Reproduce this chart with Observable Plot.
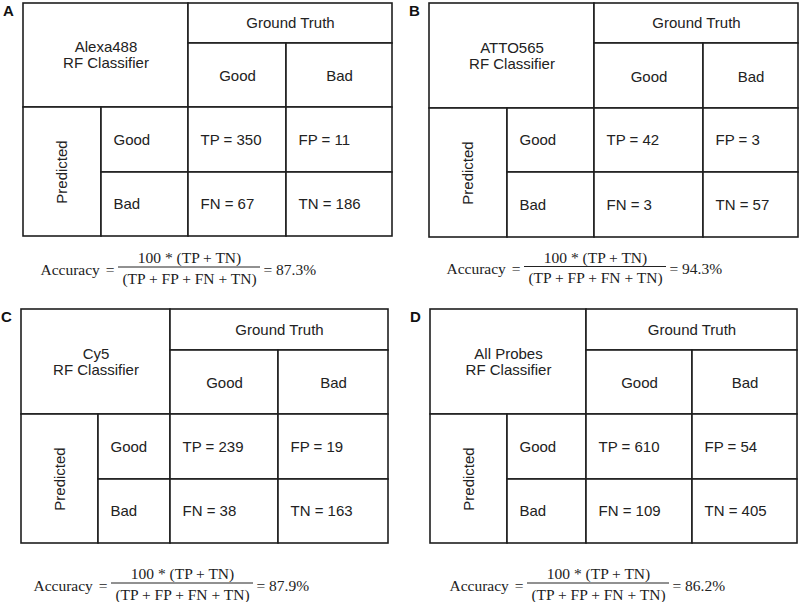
<!DOCTYPE html>
<html>
<head>
<meta charset="utf-8">
<script src="https://cdn.jsdelivr.net/npm/d3@7"></script>
<script src="https://cdn.jsdelivr.net/npm/@observablehq/plot@0.6"></script>
<style>
  html, body { margin: 0; padding: 0; background: #fff; }
  #chart svg { display: block; }
</style>
</head>
<body>
<div id="chart"></div>
<script>
// ---- Data ----
const panels = ["A", "B", "C", "D"];
const probes = ["Alexa488", "ATTO565", "Cy5", "All Probes"];
const truthLabels = ["Good", "Bad"];
const predLabels = ["Good", "Bad"];
const tp = [350, 42, 239, 610];
const fp = [11, 3, 19, 54];
const fn = [67, 3, 38, 109];
const tn = [186, 57, 163, 405];
const accuracy = [87.3, 94.3, 87.9, 86.2];

// ---- Layout (table grid edges, formula anchors) ----
const colEdges = [
  [23, 101, 188, 286, 392],
  [429, 507, 594, 703, 798],
  [21, 98, 170, 278, 388],
  [430, 507, 586, 692, 797]
];
const rowEdges = [
  [3, 43, 107, 172, 236],
  [3, 43, 108, 172, 237],
  [309, 350, 414, 479, 543],
  [309, 350, 414, 479, 543]
];
const formulaAt = [[40, 266.5], [446, 266], [33, 582.5], [449, 582.5]];

// ---- Build tables for marks ----
const cells = [], texts = [], boldTexts = [], rotTexts = [], fTexts = [], fLines = [];
panels.forEach((p, i) => {
  const X = colEdges[i], Y = rowEdges[i];
  const cell = (a, b, c, d) => cells.push({x1: X[a], x2: X[b], y1: Y[c], y2: Y[d]});
  cell(0, 2, 0, 2);  // title
  cell(2, 4, 0, 1);  // ground truth
  cell(2, 3, 1, 2); cell(3, 4, 1, 2); // good/bad header
  cell(0, 1, 2, 4);  // predicted
  cell(1, 2, 2, 3); cell(1, 2, 3, 4); // row labels
  cell(2, 3, 2, 3); cell(3, 4, 2, 3); cell(2, 3, 3, 4); cell(3, 4, 3, 4);

  const tcx = (X[0] + X[2]) / 2, tcy = (Y[0] + Y[2]) / 2;
  boldTexts.push({x: X[0] - 15, y: Y[0] + 8, text: p});
  texts.push({x: tcx, y: tcy - 8, text: probes[i], anchor: "middle"});
  texts.push({x: tcx, y: tcy + 8, text: "RF Classifier", anchor: "middle"});
  texts.push({x: (X[2] + X[4]) / 2, y: (Y[0] + Y[1]) / 2, text: "Ground Truth", anchor: "middle"});
  truthLabels.forEach((t, k) => texts.push({x: (X[2 + k] + X[3 + k]) / 2, y: (Y[1] + Y[2]) / 2 + 1, text: t, anchor: "middle"}));
  rotTexts.push({x: (X[0] + X[1]) / 2, y: (Y[2] + Y[4]) / 2, text: "Predicted"});
  predLabels.forEach((t, k) => texts.push({x: X[1] + 12, y: (Y[2 + k] + Y[3 + k]) / 2, text: t, anchor: "start"}));
  const vals = [["TP", tp[i]], ["FP", fp[i]], ["FN", fn[i]], ["TN", tn[i]]];
  vals.forEach(([lab, v], k) => {
    const c = k % 2, r = Math.floor(k / 2);
    texts.push({x: X[2 + c] + 12, y: (Y[2 + r] + Y[3 + r]) / 2, text: `${lab} = ${v}`, anchor: "start"});
  });

  const [fx, fy] = formulaAt[i];
  fTexts.push({x: fx, y: fy + 3, text: "Accuracy", anchor: "start"});
  fTexts.push({x: fx + 69.5, y: fy + 3, text: "=", anchor: "middle"});
  fTexts.push({x: fx + 149, y: fy - 8.5, text: "100 * (TP + TN)", anchor: "middle"});
  fTexts.push({x: fx + 149, y: fy + 12, text: "(TP + FP + FN + TN)", anchor: "middle"});
  fTexts.push({x: fx + 223, y: fy + 3, text: `= ${accuracy[i].toFixed(1)}%`, anchor: "start"});
  fLines.push({x1: fx + 78, x2: fx + 220, y: fy});
});

const sans = "'Liberation Sans', Arial, sans-serif";
const serif = "'Liberation Serif', 'Times New Roman', serif";

const chart = Plot.plot({
  width: 800,
  height: 602,
  margin: 0,
  x: {type: "identity", axis: null},
  y: {type: "identity", axis: null},
  style: {background: "#fff"},
  marks: [
    Plot.rect(cells, {x1: "x1", x2: "x2", y1: "y1", y2: "y2", fill: "#fff", stroke: "#1e1e1e", strokeWidth: 1.6}),
    Plot.text(texts.filter(d => d.anchor === "middle"), {x: "x", y: "y", text: "text", textAnchor: "middle", fontSize: 15, fontFamily: sans, fill: "#222"}),
    Plot.text(texts.filter(d => d.anchor === "start"), {x: "x", y: "y", text: "text", textAnchor: "start", fontSize: 15, fontFamily: sans, fill: "#222"}),
    Plot.text(rotTexts, {x: "x", y: "y", text: "text", rotate: -90, fontSize: 15, fontFamily: sans, fill: "#222"}),
    Plot.text(boldTexts, {x: "x", y: "y", text: "text", fontSize: 15, fontWeight: "bold", fontFamily: sans, fill: "#111"}),
    Plot.text(fTexts.filter(d => d.anchor === "start"), {x: "x", y: "y", text: "text", textAnchor: "start", fontSize: 15.5, fontFamily: serif, fill: "#222"}),
    Plot.text(fTexts.filter(d => d.anchor === "middle"), {x: "x", y: "y", text: "text", textAnchor: "middle", fontSize: 15.5, fontFamily: serif, fill: "#222"}),
    Plot.ruleY(fLines, {x1: "x1", x2: "x2", y: "y", stroke: "#222", strokeWidth: 1})
  ]
});
document.getElementById("chart").appendChild(chart);
</script>
</body>
</html>
